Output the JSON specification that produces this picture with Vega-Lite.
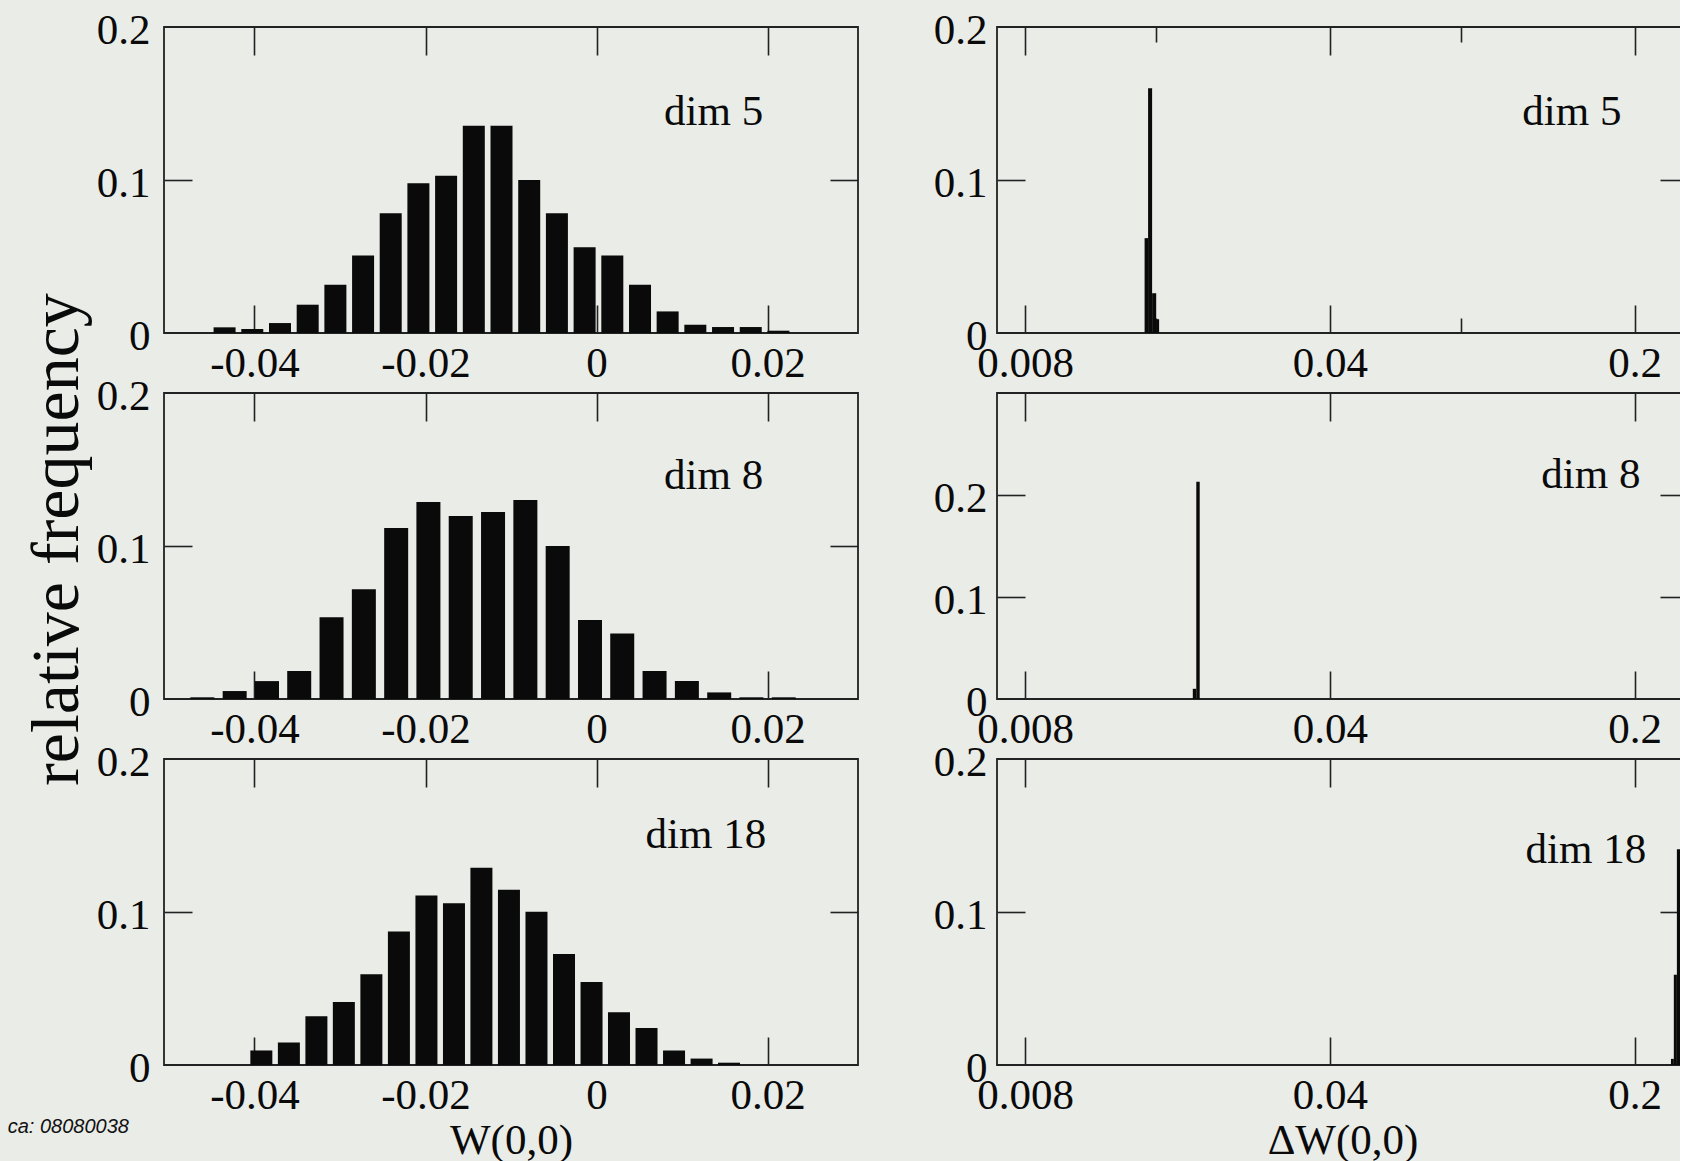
{
  "$schema": "https://vega.github.io/schema/vega-lite/v6.json",
  "background": "#e9ece7",
  "padding": {"left": 6, "top": 8, "right": -10, "bottom": 0},
  "datasets": {
    "tl": [
      {"x": -0.0435, "y": 0.0037}, {"x": -0.04026, "y": 0.0026}, {"x": -0.03702, "y": 0.0065}, {"x": -0.03378, "y": 0.0185},
      {"x": -0.03054, "y": 0.0315}, {"x": -0.0273, "y": 0.0507}, {"x": -0.02407, "y": 0.0783}, {"x": -0.02083, "y": 0.0978},
      {"x": -0.01759, "y": 0.1028}, {"x": -0.01435, "y": 0.1354}, {"x": -0.01111, "y": 0.1354}, {"x": -0.00787, "y": 0.1},
      {"x": -0.00463, "y": 0.0783}, {"x": -0.00139, "y": 0.0561}, {"x": 0.00185, "y": 0.0507}, {"x": 0.00509, "y": 0.0315},
      {"x": 0.00832, "y": 0.0141}, {"x": 0.01156, "y": 0.0054}, {"x": 0.0148, "y": 0.0039}, {"x": 0.01804, "y": 0.0039},
      {"x": 0.02128, "y": 0.0015}
    ],
    "ml": [
      {"x": -0.0461, "y": 0.0011}, {"x": -0.04232, "y": 0.0052}, {"x": -0.03854, "y": 0.0117}, {"x": -0.03477, "y": 0.0183},
      {"x": -0.03099, "y": 0.0535}, {"x": -0.02721, "y": 0.0717}, {"x": -0.02343, "y": 0.1117}, {"x": -0.01966, "y": 0.1287},
      {"x": -0.01588, "y": 0.1196}, {"x": -0.0121, "y": 0.1222}, {"x": -0.00832, "y": 0.13}, {"x": -0.00454, "y": 0.1},
      {"x": -0.00076, "y": 0.0517}, {"x": 0.00301, "y": 0.0428}, {"x": 0.00679, "y": 0.0183}, {"x": 0.01057, "y": 0.0117},
      {"x": 0.01435, "y": 0.0043}, {"x": 0.01812, "y": 0.0011}, {"x": 0.0219, "y": 0.0011}
    ],
    "bl": [
      {"x": -0.0392, "y": 0.0095}, {"x": -0.03598, "y": 0.0147}, {"x": -0.03276, "y": 0.0319}, {"x": -0.02955, "y": 0.0411},
      {"x": -0.02633, "y": 0.0593}, {"x": -0.02311, "y": 0.0873}, {"x": -0.01989, "y": 0.1108}, {"x": -0.01667, "y": 0.1057},
      {"x": -0.01346, "y": 0.129}, {"x": -0.01024, "y": 0.1145}, {"x": -0.00702, "y": 0.1002}, {"x": -0.0038, "y": 0.0725},
      {"x": -0.00058, "y": 0.0543}, {"x": 0.00263, "y": 0.0345}, {"x": 0.00585, "y": 0.0242}, {"x": 0.00907, "y": 0.0095},
      {"x": 0.01229, "y": 0.0042}, {"x": 0.0155, "y": 0.0015}
    ],
    "tr": [
      {"x0": 0.01504, "x1": 0.01532, "y": 0.062}, {"x0": 0.01532, "x1": 0.01565, "y": 0.16},
      {"x0": 0.01565, "x1": 0.01599, "y": 0.026}, {"x0": 0.01599, "x1": 0.01624, "y": 0.009}
    ],
    "mr": [
      {"x0": 0.0194, "x1": 0.01976, "y": 0.01}, {"x0": 0.01976, "x1": 0.02012, "y": 0.213}
    ],
    "br": [
      {"x0": 0.2422, "x1": 0.2459, "y": 0.004}, {"x0": 0.2459, "x1": 0.2499, "y": 0.059},
      {"x0": 0.2499, "x1": 0.2579, "y": 0.141}, {"x0": 0.2579, "x1": 0.2634, "y": 0.023}
    ]
  },
  "columns": 2,
  "spacing": {"row": 60, "column": 139},
  "bounds": "flush",
  "concat": [
    {
      "width": 694, "height": 306,
      "data": {"name": "tl"},
      "layer": [
        {"mark": {"type": "bar", "size": 22, "color": "#0a0a0a"},
         "encoding": {
           "x": {"field": "x", "type": "quantitative", "scale": {"domain": [-0.05, 0.03], "nice": false, "zero": false},
                 "axis": {"orient": "bottom", "values": [-0.04, -0.02, 0, 0.02], "format": "~g", "labelExpr": "replace(datum.label, '\u2212', '-')", "title": null, "labelPadding": 37}},
           "y": {"field": "y", "type": "quantitative", "scale": {"domain": [0, 0.2], "nice": false},
                 "axis": {"orient": "left", "values": [0, 0.1, 0.2], "format": "~g", "ticks": false, "title": null, "labelPadding": 14, "labelOffset": 3}}}},
        {"mark": {"type": "point", "opacity": 0},
         "encoding": {
           "x": {"field": "x", "type": "quantitative", "scale": {"domain": [-0.05, 0.03], "nice": false, "zero": false},
                 "axis": {"orient": "top", "values": [-0.04, -0.02, 0, 0.02], "labels": false, "title": null}},
           "y": {"field": "y", "type": "quantitative", "scale": {"domain": [0, 0.2], "nice": false},
                 "axis": {"orient": "right", "values": [0.1], "labels": false, "title": null}}}},
        {"mark": {"type": "point", "opacity": 0},
         "encoding": {
           "x": {"field": "x", "type": "quantitative", "axis": null},
           "y": {"field": "y", "type": "quantitative", "scale": {"domain": [0, 0.2], "nice": false},
                 "axis": {"orient": "left", "values": [0.1], "labels": false, "title": null}}}},
        {"data": {"values": [{"label": "dim 5"}]},
         "mark": {"type": "text", "font": "Liberation Serif", "fontSize": 43, "align": "center", "baseline": "alphabetic", "color": "#0a0a0a"},
         "encoding": {"text": {"field": "label"},
           "x": {"datum": 0.0137, "type": "quantitative", "axis": null},
           "y": {"datum": 0.136, "type": "quantitative", "axis": null}}}
      ],
      "resolve": {"axis": {"x": "independent", "y": "independent"}}
    },
    {
      "width": 691, "height": 306,
      "data": {"name": "tr"},
      "layer": [
        {"mark": {"type": "bar", "color": "#0a0a0a"},
         "encoding": {
           "x": {"field": "x0", "type": "quantitative", "scale": {"type": "log", "domain": [0.0069, 0.265], "nice": false},
                 "axis": {"orient": "bottom", "values": [0.008, 0.04, 0.2], "format": "~g", "title": null, "labelPadding": 37}},
           "x2": {"field": "x1"},
           "y": {"field": "y", "type": "quantitative", "scale": {"domain": [0, 0.2], "nice": false},
                 "axis": {"orient": "left", "values": [0, 0.1, 0.2], "format": "~g", "ticks": false, "title": null, "labelPadding": 10, "labelOffset": 3}},
           "y2": {"datum": 0}}},
        {"mark": {"type": "point", "opacity": 0},
         "encoding": {
           "x": {"field": "x0", "type": "quantitative", "scale": {"type": "log", "domain": [0.0069, 0.265], "nice": false},
                 "axis": {"orient": "top", "values": [0.008, 0.04, 0.2], "labels": false, "title": null}},
           "y": {"field": "y", "type": "quantitative", "scale": {"domain": [0, 0.2], "nice": false},
                 "axis": {"orient": "right", "values": [0.1], "labels": false, "title": null}}}},
        {"mark": {"type": "point", "opacity": 0},
         "encoding": {
           "x": {"field": "x0", "type": "quantitative", "scale": {"type": "log", "domain": [0.0069, 0.265], "nice": false},
                 "axis": {"orient": "top", "values": [0.016, 0.08], "labels": false, "title": null, "tickSize": -15}},
           "y": {"field": "y", "type": "quantitative", "scale": {"domain": [0, 0.2], "nice": false},
                 "axis": {"orient": "left", "values": [0.1], "labels": false, "title": null}}}},
        {"mark": {"type": "point", "opacity": 0},
         "encoding": {
           "x": {"field": "x0", "type": "quantitative", "scale": {"type": "log", "domain": [0.0069, 0.265], "nice": false},
                 "axis": {"orient": "bottom", "values": [0.016, 0.08], "labels": false, "title": null, "tickSize": -15}},
           "y": {"field": "y", "type": "quantitative", "axis": null}}},
        {"data": {"values": [{"label": "dim 5"}]},
         "mark": {"type": "text", "font": "Liberation Serif", "fontSize": 43, "align": "center", "baseline": "alphabetic", "color": "#0a0a0a"},
         "encoding": {"text": {"field": "label"},
           "x": {"datum": 0.1436, "type": "quantitative", "axis": null},
           "y": {"datum": 0.136, "type": "quantitative", "axis": null}}}
      ],
      "resolve": {"axis": {"x": "independent", "y": "independent"}}
    },
    {
      "width": 694, "height": 306,
      "data": {"name": "ml"},
      "layer": [
        {"mark": {"type": "bar", "size": 24, "color": "#0a0a0a"},
         "encoding": {
           "x": {"field": "x", "type": "quantitative", "scale": {"domain": [-0.05, 0.03], "nice": false, "zero": false},
                 "axis": {"orient": "bottom", "values": [-0.04, -0.02, 0, 0.02], "format": "~g", "labelExpr": "replace(datum.label, '\u2212', '-')", "title": null, "labelPadding": 37}},
           "y": {"field": "y", "type": "quantitative", "scale": {"domain": [0, 0.2], "nice": false},
                 "axis": {"orient": "left", "values": [0, 0.1, 0.2], "format": "~g", "ticks": false, "title": "relative frequency", "titleFontSize": 68, "titlePadding": 5, "titleY": 146, "labelPadding": 14, "labelOffset": 3}}}},
        {"mark": {"type": "point", "opacity": 0},
         "encoding": {
           "x": {"field": "x", "type": "quantitative", "scale": {"domain": [-0.05, 0.03], "nice": false, "zero": false},
                 "axis": {"orient": "top", "values": [-0.04, -0.02, 0, 0.02], "labels": false, "title": null}},
           "y": {"field": "y", "type": "quantitative", "scale": {"domain": [0, 0.2], "nice": false},
                 "axis": {"orient": "right", "values": [0.1], "labels": false, "title": null}}}},
        {"mark": {"type": "point", "opacity": 0},
         "encoding": {
           "x": {"field": "x", "type": "quantitative", "axis": null},
           "y": {"field": "y", "type": "quantitative", "scale": {"domain": [0, 0.2], "nice": false},
                 "axis": {"orient": "left", "values": [0.1], "labels": false, "title": null}}}},
        {"data": {"values": [{"label": "dim 8"}]},
         "mark": {"type": "text", "font": "Liberation Serif", "fontSize": 43, "align": "center", "baseline": "alphabetic", "color": "#0a0a0a"},
         "encoding": {"text": {"field": "label"},
           "x": {"datum": 0.0137, "type": "quantitative", "axis": null},
           "y": {"datum": 0.137, "type": "quantitative", "axis": null}}}
      ],
      "resolve": {"axis": {"x": "independent", "y": "independent"}}
    },
    {
      "width": 691, "height": 306,
      "data": {"name": "mr"},
      "layer": [
        {"mark": {"type": "bar", "color": "#0a0a0a"},
         "encoding": {
           "x": {"field": "x0", "type": "quantitative", "scale": {"type": "log", "domain": [0.0069, 0.265], "nice": false},
                 "axis": {"orient": "bottom", "values": [0.008, 0.04, 0.2], "format": "~g", "title": null, "labelPadding": 37}},
           "x2": {"field": "x1"},
           "y": {"field": "y", "type": "quantitative", "scale": {"domain": [0, 0.3], "nice": false},
                 "axis": {"orient": "left", "values": [0, 0.1, 0.2], "format": "~g", "ticks": false, "title": null, "labelPadding": 10, "labelOffset": 3}},
           "y2": {"datum": 0}}},
        {"mark": {"type": "point", "opacity": 0},
         "encoding": {
           "x": {"field": "x0", "type": "quantitative", "scale": {"type": "log", "domain": [0.0069, 0.265], "nice": false},
                 "axis": {"orient": "top", "values": [0.008, 0.04, 0.2], "labels": false, "title": null}},
           "y": {"field": "y", "type": "quantitative", "scale": {"domain": [0, 0.3], "nice": false},
                 "axis": {"orient": "right", "values": [0.1, 0.2], "labels": false, "title": null}}}},
        {"mark": {"type": "point", "opacity": 0},
         "encoding": {
           "x": {"field": "x0", "type": "quantitative", "axis": null},
           "y": {"field": "y", "type": "quantitative", "scale": {"domain": [0, 0.3], "nice": false},
                 "axis": {"orient": "left", "values": [0.1, 0.2], "labels": false, "title": null}}}},
        {"data": {"values": [{"label": "dim 8"}]},
         "mark": {"type": "text", "font": "Liberation Serif", "fontSize": 43, "align": "center", "baseline": "alphabetic", "color": "#0a0a0a"},
         "encoding": {"text": {"field": "label"},
           "x": {"datum": 0.1587, "type": "quantitative", "axis": null},
           "y": {"datum": 0.2064, "type": "quantitative", "axis": null}}}
      ],
      "resolve": {"axis": {"x": "independent", "y": "independent"}}
    },
    {
      "width": 694, "height": 306,
      "data": {"name": "bl"},
      "layer": [
        {"mark": {"type": "bar", "size": 22, "color": "#0a0a0a"},
         "encoding": {
           "x": {"field": "x", "type": "quantitative", "scale": {"domain": [-0.05, 0.03], "nice": false, "zero": false},
                 "axis": {"orient": "bottom", "values": [-0.04, -0.02, 0, 0.02], "format": "~g", "labelExpr": "replace(datum.label, '\u2212', '-')", "title": "W(0,0)", "titlePadding": 2, "labelPadding": 37}},
           "y": {"field": "y", "type": "quantitative", "scale": {"domain": [0, 0.2], "nice": false},
                 "axis": {"orient": "left", "values": [0, 0.1, 0.2], "format": "~g", "ticks": false, "title": null, "labelPadding": 14, "labelOffset": 3}}}},
        {"mark": {"type": "point", "opacity": 0},
         "encoding": {
           "x": {"field": "x", "type": "quantitative", "scale": {"domain": [-0.05, 0.03], "nice": false, "zero": false},
                 "axis": {"orient": "top", "values": [-0.04, -0.02, 0, 0.02], "labels": false, "title": null}},
           "y": {"field": "y", "type": "quantitative", "scale": {"domain": [0, 0.2], "nice": false},
                 "axis": {"orient": "right", "values": [0.1], "labels": false, "title": null}}}},
        {"mark": {"type": "point", "opacity": 0},
         "encoding": {
           "x": {"field": "x", "type": "quantitative", "axis": null},
           "y": {"field": "y", "type": "quantitative", "scale": {"domain": [0, 0.2], "nice": false},
                 "axis": {"orient": "left", "values": [0.1], "labels": false, "title": null}}}},
        {"data": {"values": [{"label": "dim 18"}]},
         "mark": {"type": "text", "font": "Liberation Serif", "fontSize": 43, "align": "center", "baseline": "alphabetic", "color": "#0a0a0a"},
         "encoding": {"text": {"field": "label"},
           "x": {"datum": 0.0128, "type": "quantitative", "axis": null},
           "y": {"datum": 0.142, "type": "quantitative", "axis": null}}},
        {"data": {"values": [{"label": "ca: 08080038"}]},
         "mark": {"type": "text", "font": "Liberation Sans", "fontStyle": "italic", "fontSize": 20, "align": "left", "baseline": "alphabetic", "color": "#111"},
         "encoding": {"text": {"field": "label"},
           "x": {"datum": -0.06887, "type": "quantitative", "axis": null},
           "y": {"datum": -0.0443, "type": "quantitative", "axis": null}}}
      ],
      "resolve": {"axis": {"x": "independent", "y": "independent"}}
    },
    {
      "width": 691, "height": 306,
      "data": {"name": "br"},
      "layer": [
        {"mark": {"type": "bar", "color": "#0a0a0a"},
         "encoding": {
           "x": {"field": "x0", "type": "quantitative", "scale": {"type": "log", "domain": [0.0069, 0.265], "nice": false},
                 "axis": {"orient": "bottom", "values": [0.008, 0.04, 0.2], "format": "~g", "title": "\u0394W(0,0)", "titlePadding": 2, "labelPadding": 37}},
           "x2": {"field": "x1"},
           "y": {"field": "y", "type": "quantitative", "scale": {"domain": [0, 0.2], "nice": false},
                 "axis": {"orient": "left", "values": [0, 0.1, 0.2], "format": "~g", "ticks": false, "title": null, "labelPadding": 10, "labelOffset": 3}},
           "y2": {"datum": 0}}},
        {"mark": {"type": "point", "opacity": 0},
         "encoding": {
           "x": {"field": "x0", "type": "quantitative", "scale": {"type": "log", "domain": [0.0069, 0.265], "nice": false},
                 "axis": {"orient": "top", "values": [0.008, 0.04, 0.2], "labels": false, "title": null}},
           "y": {"field": "y", "type": "quantitative", "scale": {"domain": [0, 0.2], "nice": false},
                 "axis": {"orient": "right", "values": [0.1], "labels": false, "title": null}}}},
        {"mark": {"type": "point", "opacity": 0},
         "encoding": {
           "x": {"field": "x0", "type": "quantitative", "axis": null},
           "y": {"field": "y", "type": "quantitative", "scale": {"domain": [0, 0.2], "nice": false},
                 "axis": {"orient": "left", "values": [0.1], "labels": false, "title": null}}}},
        {"data": {"values": [{"label": "dim 18"}]},
         "mark": {"type": "text", "font": "Liberation Serif", "fontSize": 43, "align": "center", "baseline": "alphabetic", "color": "#0a0a0a"},
         "encoding": {"text": {"field": "label"},
           "x": {"datum": 0.1546, "type": "quantitative", "axis": null},
           "y": {"datum": 0.132, "type": "quantitative", "axis": null}}}
      ],
      "resolve": {"axis": {"x": "independent", "y": "independent"}}
    }
  ],
  "config": {
    "view": {"stroke": "#222", "strokeWidth": 1.8},
    "axis": {
      "domain": false, "grid": false, "ticks": true, "tickSize": -28, "tickColor": "#222", "tickWidth": 1.6,
      "labelFont": "Liberation Serif", "labelFontSize": 43, "labelColor": "#0a0a0a", "labelOverlap": false, "labelFlush": false,
      "titleFont": "Liberation Serif", "titleFontSize": 43, "titleFontWeight": "normal", "titleColor": "#0a0a0a"
    }
  }
}
